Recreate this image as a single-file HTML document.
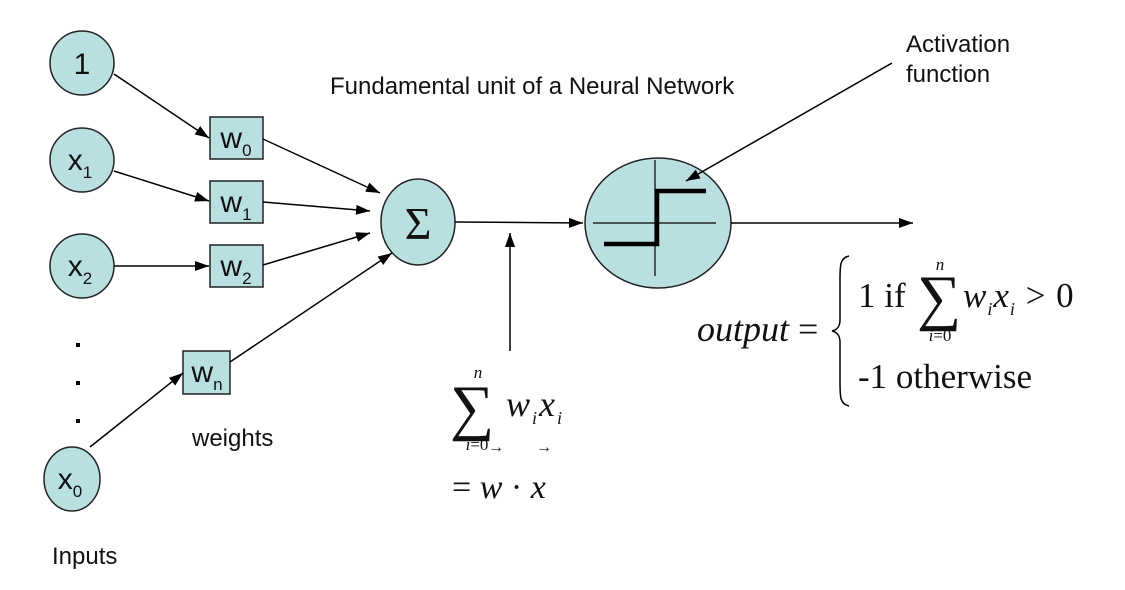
<!DOCTYPE html>
<html><head><meta charset="utf-8"><style>
html,body{margin:0;padding:0;background:#fff;}
svg{display:block}
.s{font-family:"Liberation Sans",sans-serif;fill:#111}
.m{font-family:"Liberation Serif",serif;fill:#111}
</style></head><body>
<svg width="1125" height="590" viewBox="0 0 1125 590" xmlns="http://www.w3.org/2000/svg">
<defs><marker id="b" markerWidth="14" markerHeight="10" refX="14" refY="5" orient="auto" markerUnits="userSpaceOnUse"><path d="M0,0 L14,5 L0,10 z" fill="#000"/></marker></defs>
<g fill="#b9dfe1" stroke="#222" stroke-width="1.5">
<circle cx="82" cy="63" r="32"/>
<circle cx="82" cy="160" r="32"/>
<circle cx="82" cy="266" r="32"/>
<ellipse cx="72" cy="479" rx="28" ry="32"/>
<rect x="210" y="117" width="53" height="42"/>
<rect x="210" y="181" width="53" height="42"/>
<rect x="210" y="245" width="53" height="42"/>
<rect x="183" y="351" width="47" height="43"/>
<ellipse cx="418" cy="222" rx="37" ry="43"/>
<ellipse cx="658" cy="223" rx="73" ry="65"/>
</g>
<g stroke="#000" stroke-width="1.5" fill="none">
<line x1="114" y1="74" x2="209" y2="138" marker-end="url(#b)"/>
<line x1="114" y1="171" x2="209" y2="201" marker-end="url(#b)"/>
<line x1="114" y1="266" x2="209" y2="266" marker-end="url(#b)"/>
<line x1="263" y1="139" x2="380" y2="193" marker-end="url(#b)"/>
<line x1="263" y1="202" x2="370" y2="211" marker-end="url(#b)"/>
<line x1="263" y1="265" x2="370" y2="233" marker-end="url(#b)"/>
<line x1="230" y1="362" x2="392" y2="253" marker-end="url(#b)"/>
<line x1="90" y1="447" x2="183" y2="373" marker-end="url(#b)"/>
<line x1="455" y1="222" x2="583" y2="223" marker-end="url(#b)"/>
<line x1="510" y1="351" x2="510" y2="233" marker-end="url(#b)"/>
<line x1="731" y1="223" x2="913" y2="223" marker-end="url(#b)"/>
<line x1="892" y1="63" x2="686" y2="181" marker-end="url(#b)"/>
<line x1="593" y1="223" x2="716" y2="223" stroke-width="1.2"/>
<line x1="655" y1="160" x2="655" y2="276" stroke-width="1.2"/>
<polyline points="604,244 657,244 657,191 706,191" stroke-width="4.5"/>
</g>
<g fill="#000"><rect x="76" y="343" width="4" height="4"/><rect x="76" y="381" width="4" height="4"/><rect x="76" y="419" width="4" height="4"/></g>
<g class="s" font-size="30" text-anchor="middle">
<text x="82" y="74">1</text>
<text x="80" y="170">x<tspan font-size="17" dy="8">1</tspan></text>
<text x="80" y="276">x<tspan font-size="17" dy="8">2</tspan></text>
<text x="70" y="489">x<tspan font-size="17" dy="8">0</tspan></text>
<text x="236" y="148">w<tspan font-size="17" dy="8">0</tspan></text>
<text x="236" y="212">w<tspan font-size="17" dy="8">1</tspan></text>
<text x="236" y="276">w<tspan font-size="17" dy="8">2</tspan></text>
<text x="207" y="382">w<tspan font-size="17" dy="8">n</tspan></text>
</g>
<text class="m" x="418" y="239" font-size="46" text-anchor="middle">Σ</text>
<g class="s" font-size="24">
<text x="330" y="94">Fundamental unit of a Neural Network</text>
<text x="906" y="52">Activation</text>
<text x="906" y="82">function</text>
<text x="192" y="446">weights</text>
<text x="52" y="564">Inputs</text>
</g>
<g class="m">
<text x="450" y="428" font-size="62">∑</text>
<text x="478" y="378" font-size="17" font-style="italic" text-anchor="middle">n</text>
<text x="477" y="450" font-size="17" text-anchor="middle"><tspan font-style="italic">i</tspan>=0</text>
<text x="506" y="416" font-size="36" font-style="italic" letter-spacing="2">w<tspan font-size="18" dy="8">i</tspan><tspan dy="-8">x</tspan><tspan font-size="18" dy="8">i</tspan></text>
<text x="488" y="452" font-size="16">→</text>
<text x="536" y="452" font-size="16">→</text>
<text x="452" y="498" font-size="34">= <tspan font-style="italic">w</tspan> · <tspan font-style="italic">x</tspan></text>
<text x="697" y="341" font-size="36"><tspan font-style="italic">output</tspan> =</text>
<path d="M849,256 C840,258 840,265 840,280 L840,320 C840,326 837,330 832,331 C837,332 840,336 840,342 L840,382 C840,397 840,404 849,406" stroke="#000" stroke-width="1.5" fill="none"/>
<text x="858" y="307" font-size="35">1 if</text>
<text x="917" y="318" font-size="62">∑</text>
<text x="940" y="270" font-size="17" font-style="italic" text-anchor="middle">n</text>
<text x="940" y="341" font-size="17" text-anchor="middle"><tspan font-style="italic">i</tspan>=0</text>
<text x="963" y="307" font-size="35" font-style="italic" letter-spacing="1">w<tspan font-size="18" dy="8">i</tspan><tspan dy="-8">x</tspan><tspan font-size="18" dy="8">i</tspan><tspan dy="-8" font-style="normal"> &gt; 0</tspan></text>
<text x="858" y="388" font-size="35">-1 otherwise</text>
</g>
</svg>
</body></html>
